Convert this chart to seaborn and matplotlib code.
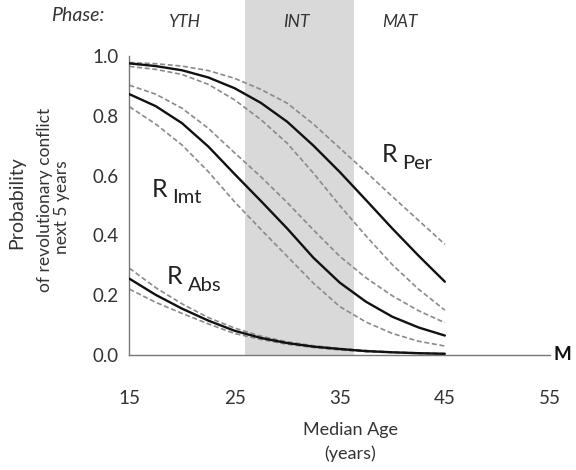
import numpy as np
import pandas as pd
import seaborn as sns
import matplotlib.pyplot as plt

# median age grid (years)
age = [15, 17.5, 20, 22.5, 25, 27.5, 30, 32.5, 35, 37.5, 40, 42.5, 45]

# R_Per : persistent regimes
per_mid = [0.975, 0.966, 0.952, 0.928, 0.892, 0.843, 0.78, 0.70, 0.612, 0.518, 0.423, 0.332, 0.245]
per_hi = [0.978, 0.974, 0.966, 0.951, 0.925, 0.888, 0.842, 0.772, 0.692, 0.612, 0.53, 0.45, 0.37]
per_lo = [0.965, 0.955, 0.938, 0.905, 0.853, 0.787, 0.708, 0.608, 0.50, 0.398, 0.302, 0.22, 0.15]

# R_Imt : intermittent regimes
imt_mid = [0.872, 0.832, 0.775, 0.697, 0.605, 0.515, 0.423, 0.325, 0.242, 0.178, 0.128, 0.092, 0.065]
imt_hi = [0.902, 0.872, 0.825, 0.758, 0.676, 0.596, 0.51, 0.418, 0.33, 0.258, 0.198, 0.148, 0.108]
imt_lo = [0.83, 0.772, 0.702, 0.613, 0.512, 0.42, 0.33, 0.24, 0.162, 0.11, 0.072, 0.046, 0.03]

# R_Abs : absolute regimes
abs_mid = [0.255, 0.201, 0.155, 0.115, 0.081, 0.057, 0.04, 0.028, 0.02, 0.013, 0.009, 0.006, 0.004]
abs_hi = [0.29, 0.225, 0.171, 0.125, 0.09, 0.063, 0.044, 0.031, 0.022, 0.015, 0.01, 0.007, 0.005]
abs_lo = [0.22, 0.176, 0.139, 0.104, 0.072, 0.052, 0.036, 0.025, 0.017, 0.011, 0.008, 0.005, 0.003]

phases = ["YTH", "INT", "MAT"]
phase_x = [20.2, 30.9, 40.7]
int_span = (25.95, 36.35)

sns.set_style("white")
plt.rcParams['font.family'] = ['Lato', 'DejaVu Sans']

fig = plt.figure(figsize=(5.76, 4.7), dpi=100)
ax = fig.add_axes([0.2248, 0.2447, 0.7665, 0.7553])

# intermediate phase band
ax.axvspan(int_span[0], int_span[1], color="#d9d9d9", lw=0, zorder=0)

#dashed confidence bands first, then the solid fits
for band in [per_hi, per_lo, imt_hi, imt_lo, abs_hi, abs_lo]:
    sns.lineplot(x=age, y=band, ax=ax, color="#8a8a8a", lw=1.2,
                 linestyle=(0, (3, 1.6)), zorder=2)
for mid in [per_mid, imt_mid, abs_mid]:
    sns.lineplot(x=age, y=mid, ax=ax, color="#111111", lw=1.7, zorder=3)

ax.set_xlim(15, 57)
ax.set_ylim(0, 1.187)
ax.spines['top'].set_visible(False)
ax.spines['right'].set_visible(False)
ax.spines['left'].set_bounds(0, 1)
ax.spines['bottom'].set_bounds(15, 55)
for s in ['left', 'bottom']:
    ax.spines[s].set_color("#777777")
    ax.spines[s].set_linewidth(1.0)

ax.set_xticks([15, 25, 35, 45, 55])
ax.set_yticks([0, 0.2, 0.4, 0.6, 0.8, 1.0])
ax.set_yticklabels(["0.0", "0.2", "0.4", "0.6", "0.8", "1.0"])
ax.tick_params(axis='x', direction='in', length=5, width=1, color="#777777",
               pad=25, labelsize=13.5, labelcolor="#333333")
ax.tick_params(axis='y', direction='in', length=7, width=1, color="#777777",
               pad=8, labelsize=13.5, labelcolor="#333333")

ax.set_xlabel("Median Age\n(years)", fontsize=13, color="#333333",
              labelpad=11, linespacing=1.55)

# axis symbol at end of x axis
ax.text(56.2, 0, "M", fontsize=13.5, fontweight='bold', ha='center', va='center',
        color="#111111", clip_on=False)

# curve labels
ax.text(17.9, 0.555, "R", fontsize=18, ha='center', va='center', color="#222222")
ax.text(20.5, 0.525, "Imt", fontsize=14.5, ha='center', va='center', color="#222222")
ax.text(19.3, 0.264, "R", fontsize=18, ha='center', va='center', color="#222222")
ax.text(22.2, 0.234, "Abs", fontsize=14.5, ha='center', va='center', color="#222222")
ax.text(39.7, 0.669, "R", fontsize=18, ha='center', va='center', color="#222222")
ax.text(42.4, 0.640, "Per", fontsize=14.5, ha='center', va='center', color="#222222")

# phase labels
ax.text(10.1, 1.135, "Phase:", fontsize=14, style='italic', ha='center',
        va='center', color="#333333", clip_on=False)
for name, xp in zip(phases, phase_x):
    ax.text(xp, 1.115, name, fontsize=12.5, style='italic', ha='center',
            va='center', color="#333333")

# y axis title in three pieces
fig.text(0.0295, 0.568, "Probability", rotation=90, fontsize=14,
         ha='center', va='center', color="#333333")
fig.text(0.078, 0.574, "of revolutionary conflict", rotation=90, fontsize=12.5,
         ha='center', va='center', color="#333333")
fig.text(0.107, 0.56, "next 5 years", rotation=90, fontsize=12.5,
         ha='center', va='center', color="#333333")

fig.savefig("out.png", dpi=100)
